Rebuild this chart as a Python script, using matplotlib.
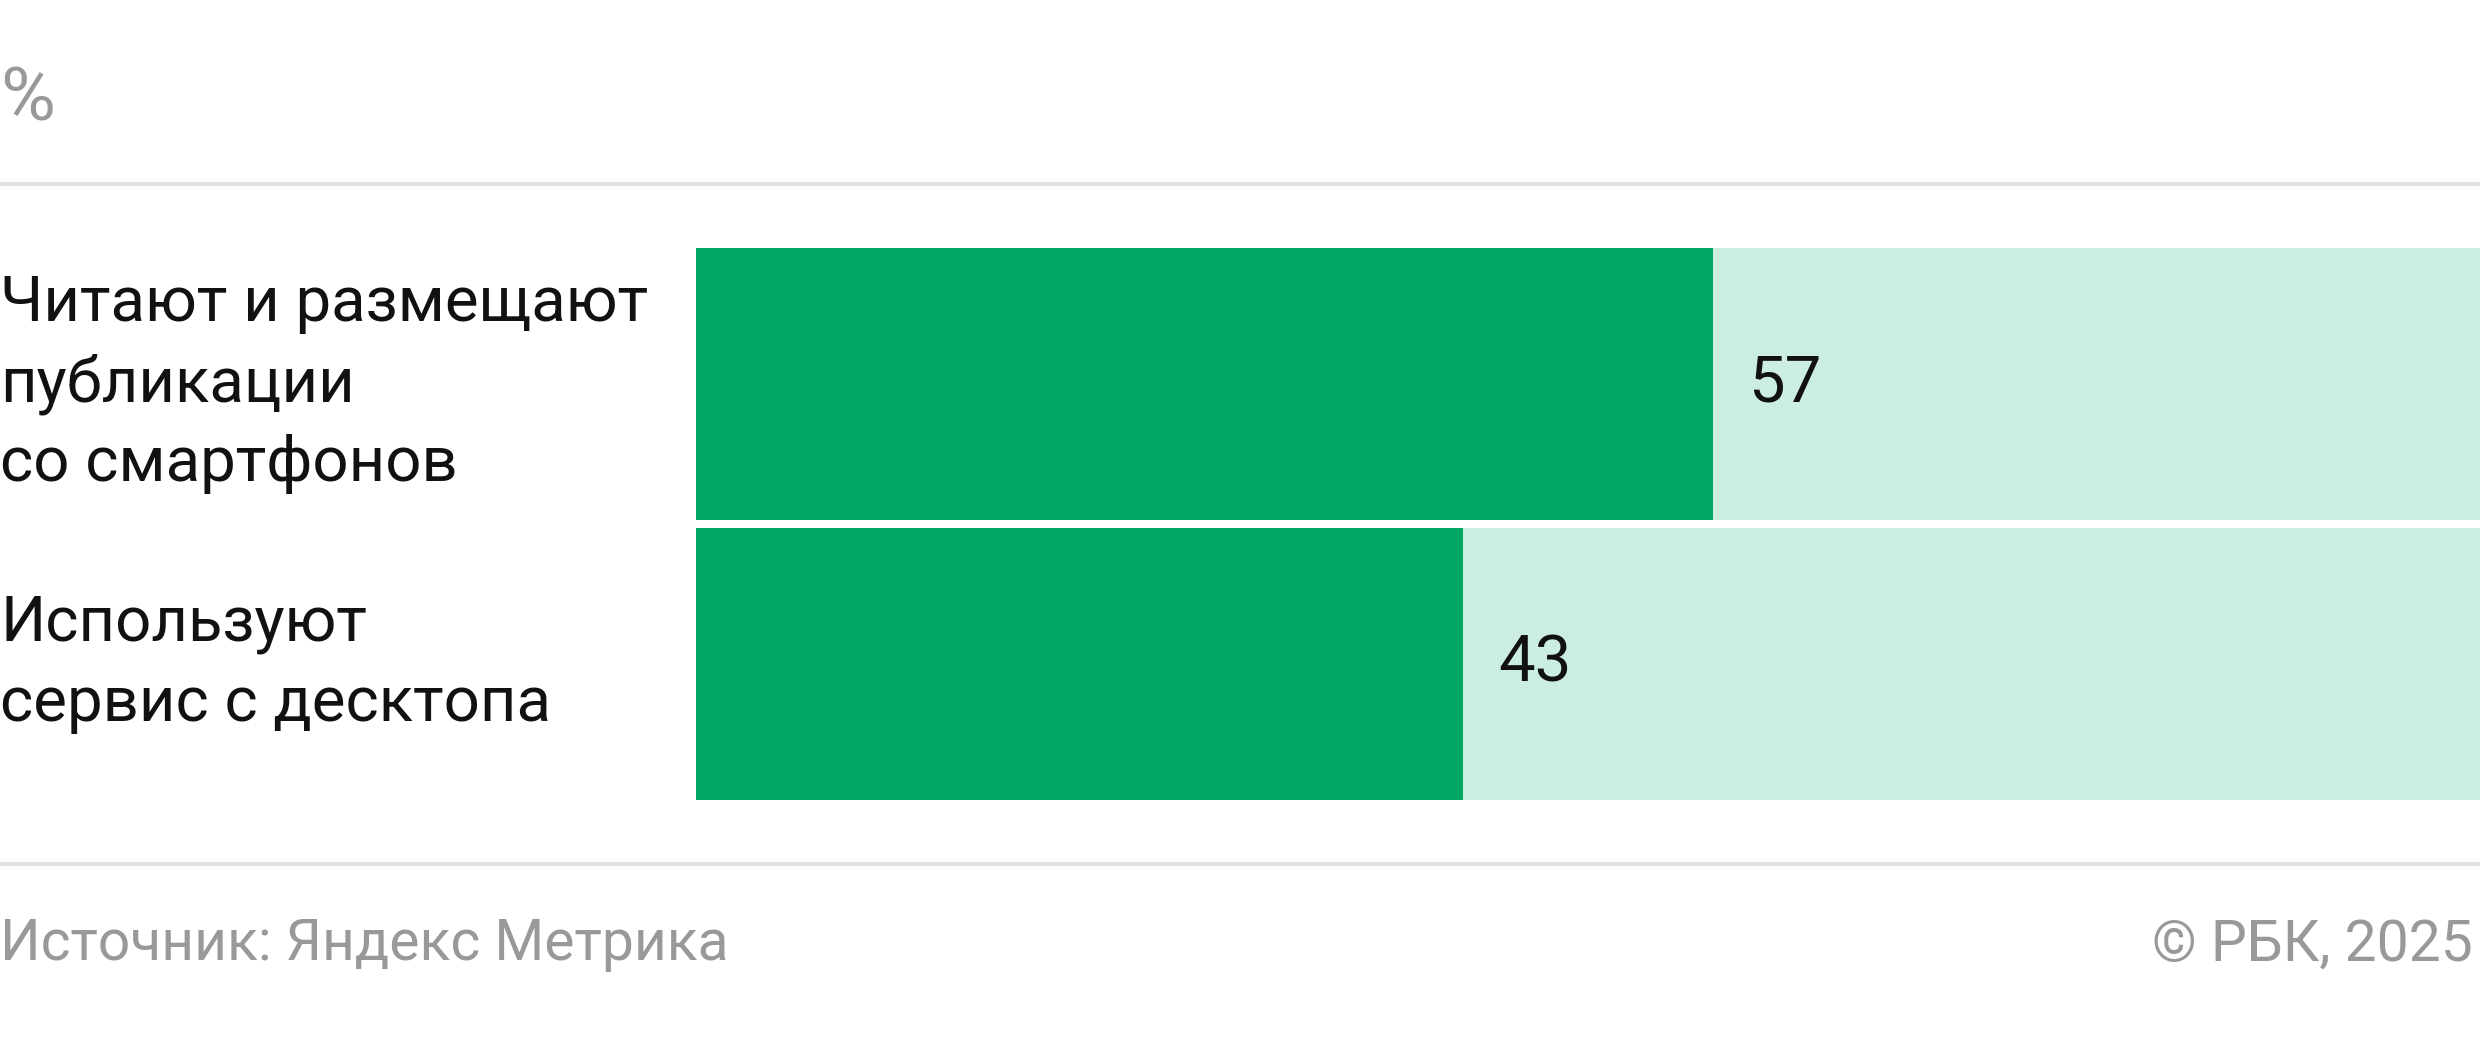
import matplotlib.pyplot as plt
import matplotlib.transforms as mtransforms

plt.rcParams['font.family'] = ['Roboto', 'DejaVu Sans']

categories = ["Читают и размещают\nпубликации\nсо смартфонов",
              "Используют\nсервис с десктопа"]
values = [57, 43]
total = 100
unit = "%"
source = "Источник: Яндекс Метрика"
copyright_text = "© РБК, 2025"

dark = "#00a868"
light = "#cceee1"
grey_txt = "#999999"
line_col = "#e3e3e3"

W, H = 2480, 1040
fig = plt.figure(figsize=(W / 100, H / 100), dpi=100)

# axes: bars span x 696..2480 px, y 248..800 px
ax = fig.add_axes([696 / W, (H - 800) / H, (W - 696) / W, 552 / H])
h = 272 / 280
ypos = list(range(len(values)))
ax.barh(ypos, [total] * len(values), height=h, color=light, linewidth=0)
ax.barh(ypos, values, height=h, color=dark, linewidth=0)
ax.set_xlim(0, total)
ax.set_ylim(len(values) - 1 + h / 2, -h / 2)
ax.axis("off")

for y, v in zip(ypos, values):
    ax.annotate(str(v), (v, y), xytext=(25.5, 0), textcoords="offset points",
                va="center", ha="left", fontsize=47, color="#111111")

trans = mtransforms.blended_transform_factory(fig.transFigure, ax.transData)
for y, lab in zip(ypos, categories):
    ax.text(0, y, lab, transform=trans, va="center", ha="left",
            fontsize=45.7, color="#111111", linespacing=1.41)

fig.text(0, 1 - 100 / H, unit, va="center", ha="left", fontsize=54, color=grey_txt)
fig.text(0, 1 - 945 / H, source, va="center", ha="left", fontsize=41, color=grey_txt)
fig.text(2473 / W, 1 - 945 / H, copyright_text, va="center", ha="right", fontsize=41, color=grey_txt)

for yy in (184, 864):
    fig.add_artist(plt.Line2D([0, 1], [1 - yy / H] * 2, transform=fig.transFigure,
                              color=line_col, linewidth=4 * 72 / 100))

fig.savefig("out.png", dpi=100, facecolor="white")
